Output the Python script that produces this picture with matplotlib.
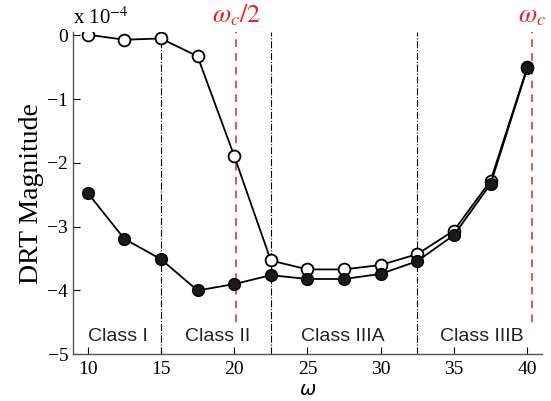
import numpy as np
import matplotlib.pyplot as plt

# frequency samples
omega = [10, 12.5, 15, 17.5, 20, 22.5, 25, 27.5, 30, 32.5, 35, 37.5, 40]
# DRT magnitude, units of 1e-4
drt_open = [0.01, -0.07, -0.05, -0.33, -1.89, -3.53, -3.67, -3.67, -3.60, -3.43, -3.06, -2.28, -0.50]
drt_filled = [-2.47, -3.19, -3.51, -4.00, -3.90, -3.76, -3.82, -3.82, -3.74, -3.54, -3.13, -2.33, -0.52]

class_bounds = [15, 22.5, 32.5]
class_names = ['Class I', 'Class II', 'Class IIIA', 'Class IIIB']
class_pos = [12.05, 18.9, 27.4, 36.9]
wc = 40.3

fig = plt.figure(figsize=(5.51, 4.01), dpi=100)
ax = fig.add_axes([0.1325, 0.1165, 0.851, 0.8035])

serif = 'Liberation Serif'
plt.rcParams['mathtext.fontset'] = 'stix'

# class boundaries
for xb in class_bounds:
    ax.plot([xb, xb], [-5, 0.05], color='black', linestyle='-.', linewidth=0.8, zorder=1)

# cutoff lines
red = '#e8222a'
ax.plot([wc / 2, wc / 2], [-4.5, 0.05], color=red, linestyle=(0, (5, 4)), linewidth=1.1, zorder=1)
ax.plot([wc, wc], [-4.5, 0.05], color=red, linestyle=(0, (5, 4)), linewidth=1.1, zorder=1)

ax.plot(omega, drt_open, color='black', linewidth=1.3, marker='o', markersize=8.5,
        markerfacecolor='white', markeredgecolor='black', markeredgewidth=1.3, zorder=3)
ax.plot(omega, drt_filled, color='black', linewidth=1.3, marker='o', markersize=8.5,
        markerfacecolor='#1a1a1a', markeredgecolor='black', zorder=4)

for name, xp in zip(class_names, class_pos):
    ax.text(xp, -4.72, name, ha='center', va='center', fontsize=14,
            family='Liberation Sans', color='#222222')

ax.text(wc / 2, 0.1, r'$\omega_c/2$', color=red, ha='center', va='bottom', fontsize=19)
ax.text(wc, 0.1, r'$\omega_c$', color=red, ha='center', va='bottom', fontsize=19)
ax.text(9.0, 0.1, r'x 10$^{-4}$', ha='left', va='bottom', fontsize=15, family=serif)

ax.set_xlim(9, 41)
ax.set_ylim(-5, 0.05)
ax.set_xticks([10, 15, 20, 25, 30, 35, 40])
ax.set_yticks([-5, -4, -3, -2, -1, 0])
ax.set_yticklabels(['\u22125', '\u22124', '\u22123', '\u22122', '\u22121', '0'])
ax.tick_params(direction='in', labelsize=14, length=5, width=0.8)
ax.tick_params(axis='x', pad=5)
for lab in ax.get_xticklabels() + ax.get_yticklabels():
    lab.set_family(serif)

for s in ['top', 'right']:
    ax.spines[s].set_visible(False)
for s in ['left', 'bottom']:
    ax.spines[s].set_color('#555555')
    ax.spines[s].set_linewidth(1.0)

ax.set_ylabel('DRT Magnitude', fontsize=20, family=serif, labelpad=2)
ax.set_xlabel(r'$\omega$', fontsize=14, labelpad=1)

fig.savefig('out.png', dpi=100)
